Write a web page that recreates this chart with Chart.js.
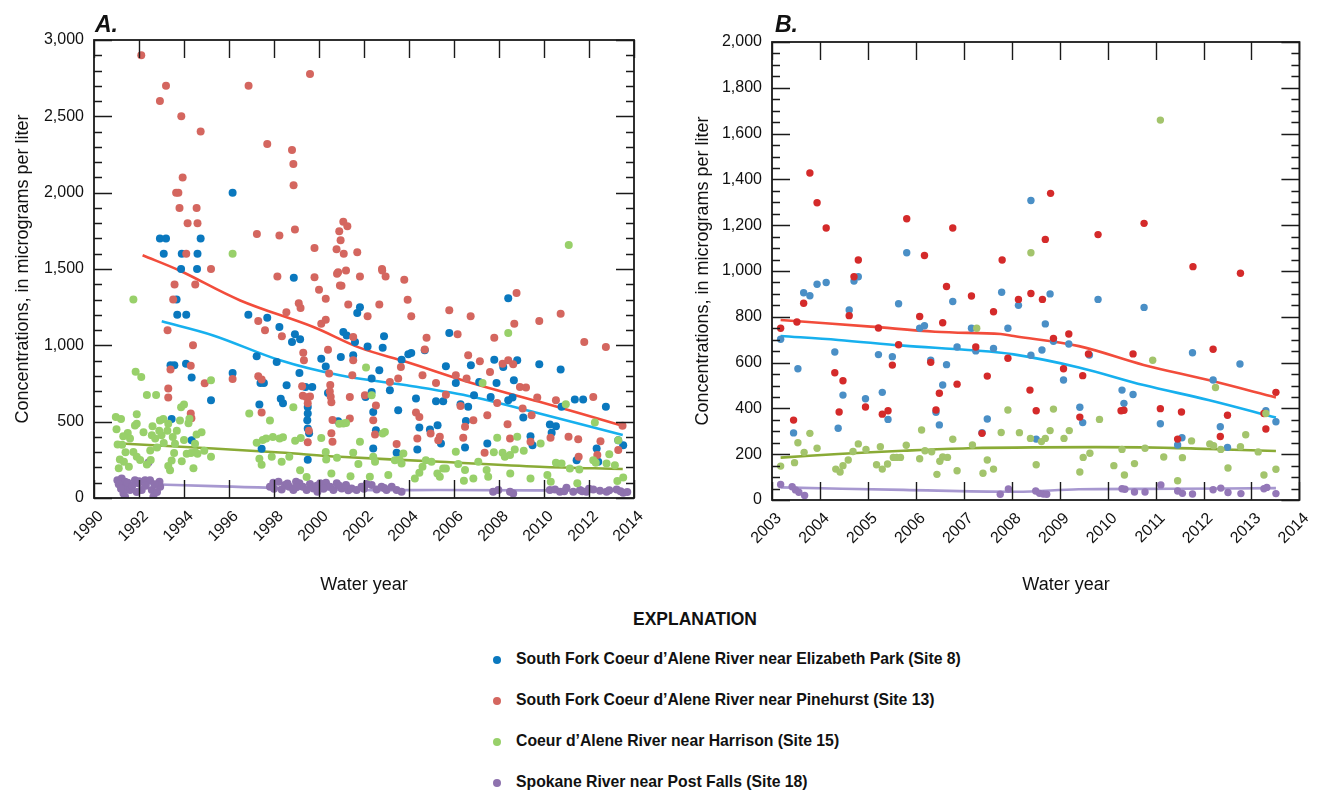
<!DOCTYPE html>
<html lang="en">
<head>
<meta charset="UTF-8">
<title>Concentrations by water year</title>
<script src="https://cdn.jsdelivr.net/npm/chart.js@4.4.1/dist/chart.umd.min.js"></script>
<style>
  body { margin: 0; background: #fff; color: #111;
         font-family: 'Liberation Sans Narrow', 'Arial Narrow', 'Liberation Sans', sans-serif; }
  .page { position: relative; width: 1322px; height: 792px; overflow: hidden; }
  canvas { position: absolute; top: 0; }
  #chartA { left: 0; }
  #chartB { left: 660px; }
  .tag { position: absolute; top: 11px; font: italic bold 23px 'Liberation Sans', Arial, sans-serif; }
  .xtitle { position: absolute; top: 574px; font-size: 18px; transform: translateX(-50%); white-space: nowrap; }
  .explain { position: absolute; left: 695px; top: 608px; transform: translateX(-50%) scaleX(0.92);
             font-weight: bold; font-size: 19px; }
  .item { position: absolute; left: 516px; font-weight: bold; font-size: 16.5px; white-space: nowrap;
          transform: scaleX(0.955); transform-origin: left center; }
  .dot { position: absolute; left: 493px; width: 8px; height: 8px; border-radius: 50%; }
</style>
</head>
<body>
<div class="page">
  <canvas id="chartA" width="660" height="600"></canvas>
  <canvas id="chartB" width="662" height="600"></canvas>
  <div class="tag" style="left:95px">A.</div>
  <div class="tag" style="left:775px">B.</div>
  <div class="xtitle" style="left:364px">Water year</div>
  <div class="xtitle" style="left:1066px">Water year</div>
  <div class="explain">EXPLANATION</div>
  <div id="legend"></div>
</div>

<script>
  // ---- panel A: water years 1990-2014, [year, micrograms per liter]
  const aSite8 = [
    [1996.16,2000],[1992.93,1700],[1993.2,1700],[1994.74,1700],[1993.1,1600],[1993.9,1600],[1994.6,1600],[1993.87,1500],[1994.58,1500],
    [1993.67,1300],[1993.7,1200],[1994.1,1200],[1993.4,870],[1993.57,870],[1994.34,790],[1994.09,880],[1995.2,640],[1993.45,518],[1994.34,379],
    [1996.16,819],[1996.86,1200],[1997.7,1181],[1998.24,1120],[1998.88,1442],[1997.23,928],[1997.4,754],[1997.55,754],[1997.35,612],[1997.45,322],
    [1998.12,891],[1998.3,650],[1998.4,620],[1998.56,738],[1998.8,1022],[1998.93,1073],[1999.16,1040],[1999.13,819],[1999.4,727],[1999.7,727],
    [1999.5,596],[1999.5,553],[1999.48,510],[1999.5,455],[1999.56,424],[1999.5,250],[2000.1,912],[2000.3,862],[2000.4,688],[2000.85,503],
    [2008.41,1309],[2009.79,876],[2010.74,841],[2001.82,1250],[2001.7,1211],[2001.08,1087],[2001.23,1065],[2001.6,1022],[2000.97,924],
    [2002.16,993],[2002.83,984],[2002.89,1059],[2002.68,836],[2001.52,935],[2002.07,662],[2002.34,782],[2002.34,695],[2002.41,564],[2002.53,444],
    [2002.41,324],[2003.15,706],[2003.52,575],[2003.45,296],[2003.67,906],[2003.97,941],[2004.1,950],[2004.7,967],[2004.31,651],[2004.46,462],
    [2004.37,318],[2004.93,449],[2005.27,477],[2005.42,357],[2005.2,634],[2005.52,634],[2005.64,863],[2005.79,1080],[2006.08,754],[2006.29,614],
    [2006.63,597],[2006.53,505],[2006.49,331],[2006.75,869],[2006.89,673],[2007.12,760],[2007.48,357],[2007.63,662],[2007.79,906],[2007.89,754],
    [2008.19,858],[2008.41,640],[2008.66,771],[2008.81,902],[2008.6,658],[2009.08,527],[2009.4,405],[2009.49,346],[2010.26,481],[2010.53,470],
    [2010.34,427],[2010.78,597],[2011.37,645],[2011.45,248],[2011.74,645],[2012.34,325],[2012.41,237],[2012.75,597],[2013.3,379],[2013.52,346]
  ];
  const aSite13 = [
    [1992.1,2900],[1993.2,2700],[1992.93,2600],[1993.88,2500],[1994.74,2400],[1996.87,2700],[1999.6,2778],[1997.7,2318],[1998.8,2279],
    [1998.86,2188],[1998.87,2048],[1993.94,2100],[1993.65,2000],[1993.75,2000],[1993.8,1900],[1994.56,1900],[1994.16,1800],[1994.6,1800],
    [1997.24,1730],[1998.24,1720],[1998.93,1758],[1999.8,1638],[2001.08,1810],[2001.26,1780],[2000.9,1747],[2000.96,1688],[2000.78,1630],
    [2001.1,1600],[2001.7,1610],[1994.1,1600],[2002.8,1500],
    [1993.58,1399],[1993.52,1300],[1993.27,1098],[1994.5,1399],[1994.4,1000],[1993.4,841],[1994.3,867],[1993.3,717],[1993.3,658],[1994.3,553],
    [1994.33,523],[1994.92,751],[1996.16,780],[1995.2,1500],[1997.3,797],[1997.45,777],[1997.45,560],[1997.3,1159],[1997.6,1098],[1998.15,1451],
    [1998.55,1217],[1998.35,1060],[1999.1,1276],[1999.18,1245],[1999.3,951],[1999.33,903],[1999.25,732],[1999.28,670],[1999.45,660],[1999.6,665],
    [1999.5,620],[1999.5,365],[1999.55,441],[2000.0,1364],[2000.3,1305],[2000.1,1142],[2000.3,1168],[1999.8,1446],[2000.8,1469],[2001.0,1391],
    [2000.85,1478],[2000.4,971],[2000.45,815],[2000.5,740],[2000.48,697],[2000.52,664],[2000.55,627],[2000.6,511],[2000.55,424],[2000.6,369],
    [2001.2,1490],[2001.82,1451],[2002.81,1490],[2002.96,1451],[2003.79,1429],[2003.94,1298],[2004.1,1190],[2001.3,1268],[2002.16,1190],
    [2002.68,1268],[2000.93,1392],[2005.79,1229],[2006.74,1190],[2006.16,1072],[2004.78,1050],[2004.7,972],[2006.63,935],[2007.15,895],
    [2007.79,1050],[2008.78,1342],[2008.68,1142],[2009.79,1159],[2010.74,1207],[2011.79,1022],[2012.75,989],[2001.52,1054],[2001.52,902],
    [2001.48,804],[2001.37,662],[2001.37,520],[2002.04,673],[2002.53,606],[2002.41,510],[2002.49,416],[2003.52,782],[2003.64,858],[2003.15,760],
    [2003.45,353],[2004.6,804],[2004.31,560],[2004.46,531],[2004.37,390],[2004.96,422],[2005.3,379],[2005.37,401],[2005.2,754],[2005.64,677],
    [2006.08,804],[2006.56,782],[2006.29,603],[2006.49,466],[2006.41,394],[2006.86,510],[2007.48,542],[2007.36,296],[2007.6,826],[2008.16,880],
    [2008.41,902],[2008.63,876],[2007.92,623],[2008.38,483],[2008.49,390],[2008.93,727],[2009.2,723],[2009.05,586],[2009.45,542],[2009.4,368],
    [2009.7,658],[2010.53,640],[2010.29,394],[2011.09,401],[2011.52,385],[2011.54,270],[2012.19,662],[2012.37,281],[2012.51,372],[2013.49,473],
    [2013.3,314]
  ];
  const aSite15 = [
    [1996.16,1600],[2011.1,1658],[1991.75,1300],[1991.85,827],[1992.1,793],[1992.35,675],[1992.76,675],[1990.97,531],[1991.2,518],[1991.9,549],
    [1991.5,425],[1991.3,404],[1991.25,349],[1991.15,253],[1991.33,238],[1991.1,195],[1991.75,302],[1991.9,270],[1992.05,249],[1992.5,311],
    [1992.52,249],[1991.9,486],[1991.82,475],[1992.57,411],[1992.72,390],[1993.0,411],[1992.93,508],[1993.08,518],[1993.3,486],[1993.26,440],
    [1993.68,440],[1993.82,508],[1993.87,595],[1994.0,612],[1994.2,490],[1994.24,519],[1994.49,356],[1994.56,416],[1994.78,431],[1993.6,356],
    [1993.56,294],[1993.45,246],[1993.38,181],[1993.3,210],[1994.12,290],[1994.31,294],[1994.6,290],[1994.42,195],[1995.2,270],[1995.2,772],
    [1991.05,350],[1991.4,300],[1991.6,390],[1992.2,430],[1992.9,440],[1993.1,360],[1993.5,400],[1994.0,380],[1994.5,300],[1992.35,220],
    [1991.55,205],[1992.8,330],[1993.9,240],[1994.9,310],[1991.0,450],[1992.6,470],
    [1996.9,553],[1997.23,362],[1997.5,380],[1997.65,390],[1997.95,400],[1998.25,390],[1998.4,398],[1997.45,218],[1997.35,257],[1997.9,270],
    [1998.34,238],[1998.68,270],[1997.82,508],[1998.86,595],[1998.94,375],[1999.19,393],[1999.16,181],[1999.45,138],[2000.1,393],[2000.55,160],
    [2000.32,253],[2000.3,302],[2000.9,486],[2000.8,263],[2001.4,142],
    [2008.41,1080],[2002.09,854],[2002.34,673],[2001.08,488],[2001.2,492],[2002.83,422],[2002.93,433],[2001.82,368],[2001.52,296],[2001.75,222],
    [2002.41,270],[2002.49,237],[2002.26,139],[2003.08,150],[2003.37,248],[2003.67,226],[2003.75,292],[2003.58,250],[2004.26,128],[2004.46,165],
    [2004.6,205],[2004.75,248],[2005.0,237],[2005.26,161],[2005.37,139],[2005.52,194],[2005.64,194],[2006.08,303],[2006.19,222],[2006.49,183],
    [2006.44,113],[2006.86,128],[2007.08,237],[2007.45,183],[2007.52,139],[2007.27,754],[2007.77,300],[2008.16,296],[2008.26,270],[2008.49,281],
    [2007.92,394],[2008.81,401],[2008.7,318],[2009.1,309],[2008.5,161],[2009.4,128],[2009.85,357],[2010.15,150],[2010.53,231],[2010.78,226],
    [2010.3,107],[2010.97,614],[2011.15,194],[2011.57,187],[2011.48,96],[2012.19,248],[2012.26,494],[2012.3,231],[2012.78,226],[2012.9,287],
    [2013.15,215],[2013.3,379],[2013.52,135],[2013.26,111]
  ];
  const aSite18 = [
    [1991.04,117],[1991.23,128],[1991.38,107],[1991.45,74],[1991.31,30],[1991.38,8],[1991.6,52],[1991.82,117],[1991.97,96],[1992.12,52],
    [1992.27,117],[1992.42,233],[1992.49,117],[1992.57,52],[1992.64,8],[1992.91,107],[1992.94,74],
    [1991.1,90],[1991.5,100],[1991.7,80],[1991.9,40],[1992.0,110],[1992.3,80],[1992.7,90],[1992.8,40],[1991.2,60],
    [1997.82,74],[1997.97,100],[1998.2,107],[1998.34,56],[1998.49,85],[1998.68,74],[1998.86,52],[1998.98,107],[1999.13,96],[1999.28,74],
    [1999.45,52],[1999.6,91],[1999.75,63],[1999.93,41],[2000.05,96],[2000.31,100],[2000.49,74],[2000.64,52],[2000.79,96],[2001.01,63],
    [1998.0,60],[1998.6,95],[1999.0,70],[1999.9,80],[2000.2,60],[2000.9,80],[2001.3,50],[2002.0,60],[2002.9,65],
    [2001.2,85],[2001.45,63],[2001.67,52],[2001.89,74],[2002.12,91],[2002.34,85],[2002.56,56],[2002.78,74],[2003.0,52],[2003.23,74],
    [2003.45,52],[2003.67,41],[2007.74,41],[2007.97,52],[2008.49,41],[2008.63,30],[2010.26,52],[2010.49,56],[2010.71,41],[2011.0,67],
    [2011.3,41],[2011.6,52],[2011.89,41],[2012.19,56],[2012.49,48],[2012.78,41],[2013.23,56],[2013.52,34],
    [2010.9,45],[2011.7,45],[2012.0,60],[2012.9,50],[2013.4,45],[2013.7,40]
  ];
  // smoothed trend lines, panel A
  const aTrend8 = [[1993.01,1157],[1995.3,1065],[1998.27,902],[2000.93,804],[2003.9,738],[2006.86,662],[2009.8,553],[2013.5,412]];
  const aTrend13 = [[1992.16,1590],[1993.8,1490],[1996.5,1294],[1999.75,1120],[2001.8,985],[2003.9,891],[2006.86,750],[2009.8,630],[2013.52,472]];
  const aTrend15 = [[1991.2,357],[1995.3,324],[1998.27,298],[2000.93,270],[2005.4,237],[2009.8,205],[2013.5,190]];
  const aTrend18 = [[1991.2,96],[1995.3,78],[2001.8,52],[2005.4,52],[2013.5,48]];

  // ---- panel B: water years 2003-2014
  const bSite8 = [
    [2005.81,1080],[2008.4,1308],[2003.18,702],[2003.54,573],[2003.66,905],[2003.79,892],[2003.94,942],[2004.13,950],[2004.61,830],[2004.71,956],
    [2004.8,975],[2004.31,646],[2004.48,458],[2004.38,313],[2003.45,293],[2004.95,442],[2005.22,635],[2005.3,470],[2005.51,626],[2005.42,352],
    [2005.64,857],[2006.08,750],[2006.18,761],[2006.31,611],[2006.42,383],[2006.49,328],[2006.56,502],[2006.64,591],[2006.77,867],[2006.86,668],
    [2007.16,750],[2007.25,651],[2007.38,294],[2007.49,354],[2007.62,662],[2007.79,907],[2007.92,750],[2008.14,850],[2008.4,632],
    [2008.8,900],[2008.7,769],[2008.63,655],[2008.87,693],[2009.19,681],[2009.08,524],[2009.62,633],[2009.42,405],[2009.48,338],[2009.8,876],
    [2010.3,480],[2010.34,422],[2010.53,461],[2010.76,841],[2011.1,333],[2011.55,272],[2011.46,240],[2011.77,643],[2012.2,524],[2012.35,320],
    [2012.5,230],[2012.76,594],[2013.3,390],[2013.51,342],[2008.51,266]
  ];
  const bSite13 = [
    [2003.79,1428],[2003.94,1298],[2004.13,1188],[2004.8,1048],[2005.81,1228],[2006.18,1068],[2006.77,1188],[2007.8,1048],[2008.81,1339],
    [2008.7,1138],[2009.8,1159],[2010.76,1208],[2011.78,1019],
    [2003.18,750],[2003.52,777],[2003.45,349],[2003.66,859],[2004.71,975],[2004.61,805],[2004.31,556],[2004.48,521],[2004.4,384],[2004.95,406],
    [2005.22,751],[2005.3,375],[2005.42,390],[2005.51,589],[2005.64,678],[2006.08,801],[2006.31,601],[2006.42,393],[2006.49,466],[2006.56,774],
    [2006.64,932],[2006.86,506],[2007.16,891],[2007.25,668],[2007.38,291],[2007.49,541],[2007.62,822],[2007.92,619],[2008.14,876],[2008.4,902],
    [2008.38,480],
    [2008.64,876],[2008.87,706],[2009.19,725],[2009.08,573],[2009.48,543],[2009.6,638],[2008.51,390],[2009.42,362],[2010.53,638],[2010.28,390],
    [2010.34,392],[2011.1,399],[2011.54,384],[2011.46,266],[2012.2,658],[2012.5,370],[2012.35,277],[2013.51,470],[2013.26,378],[2013.3,310],
    [2012.77,990]
  ];
  const bSite15 = [
    [2008.4,1080],[2011.1,1659],[2003.18,148],[2003.47,163],[2003.54,250],[2003.67,208],[2003.79,291],[2003.94,226],[2004.33,135],[2004.42,122],
    [2004.48,150],[2004.59,175],[2004.69,212],[2004.8,245],[2004.96,221],[2005.18,154],[2005.26,233],[2005.3,135],[2005.41,157],[2005.53,186],
    [2005.6,186],[2005.68,186],[2005.8,239],[2006.08,180],[2006.12,306],[2006.19,215],[2006.33,211],[2006.44,112],[2006.5,169],[2006.56,188],
    [2006.66,186],[2006.77,265],[2006.86,128],[2007.18,240],[2007.27,750],[2007.4,117],[2007.49,175],[2007.62,135],[2007.78,295],[2007.92,393],
    [2008.16,294],[2008.39,269],
    [2008.62,255],[2008.7,269],[2008.8,303],[2008.87,397],[2008.51,154],[2009.09,269],[2009.2,303],[2009.42,122],[2009.49,186],[2009.63,204],
    [2009.83,352],[2010.13,150],[2010.3,221],[2010.35,109],[2010.56,159],[2010.78,226],[2010.94,610],[2011.17,188],[2011.46,84],[2011.56,185],
    [2011.75,258],[2012.13,245],[2012.21,237],[2012.25,491],[2012.36,221],[2012.51,140],[2012.77,233],[2012.88,285],[2013.14,210],[2013.26,109],
    [2013.3,378],[2013.51,134]
  ];
  const bSite18 = [
    [2003.18,68],[2003.42,58],[2003.49,44],[2003.56,34],[2003.68,20],[2007.76,25],[2007.93,48],[2008.5,39],[2008.58,29],[2008.66,26],
    [2008.73,25],[2010.3,49],[2010.36,47],[2010.56,35],[2010.78,35],[2011.11,66],[2011.46,39],[2011.56,29],[2011.77,26],[2012.2,45],
    [2012.36,52],[2012.51,33],[2012.78,28],[2013.26,49],[2013.32,55],[2013.51,28]
  ];
  const bTrend8 = [[2003.18,716],[2004.38,699],[2005.74,674],[2007.09,655],[2008.04,636],[2009.4,579],[2010.75,502],[2012.1,437],[2013.51,360]];
  const bTrend13 = [[2003.18,786],[2005.06,757],[2006.4,735],[2007.77,725],[2008.04,716],[2009.4,672],[2010.75,590],[2012.1,524],[2013.51,448]];
  const bTrend15 = [[2003.18,185],[2004.38,201],[2005.74,215],[2007.09,226],[2008.45,230],[2010.75,230],[2012.1,223],[2013.51,214]];
  const bTrend18 = [[2003.18,55],[2005.74,44],[2008.1,36],[2009.4,47],[2011.43,49],[2013.51,52]];

  const siteNames = [
    'South Fork Coeur d\u2019Alene River near Elizabeth Park (Site 8)',
    'South Fork Coeur d\u2019Alene River near Pinehurst (Site 13)',
    'Coeur d\u2019Alene River near Harrison (Site 15)',
    'Spokane River near Post Falls (Site 18)'
  ];
  const legendColors = ['#0a78be', '#d4665f', '#98d06a', '#8e72ae'];

  const FONT = "'Liberation Sans Narrow', 'Arial Narrow', 'Liberation Sans', sans-serif";

  // inward tick marks on all four sides plus the frame
  const frameTicks = {
    id: 'frameTicks',
    afterDraw(chart, args, o) {
      const { ctx, chartArea: a, scales: { x, y } } = chart;
      ctx.save();
      ctx.strokeStyle = '#1a1a1a';
      ctx.lineWidth = 1.4;
      ctx.beginPath();
      for (let v = o.xMin; v <= o.xMax; v += o.xStep) {
        const px = Math.round(x.getPixelForValue(v)) + 0.5;
        ctx.moveTo(px, a.bottom); ctx.lineTo(px, a.bottom - 18);
        ctx.moveTo(px, a.top); ctx.lineTo(px, a.top + 18);
      }
      for (let v = 0; v <= o.yMax; v += o.yMinor) {
        const py = Math.round(y.getPixelForValue(v)) + 0.5;
        const len = v % o.yStep === 0 ? 18 : 8;
        ctx.moveTo(a.left, py); ctx.lineTo(a.left + len, py);
        ctx.moveTo(a.right, py); ctx.lineTo(a.right - len, py);
      }
      ctx.stroke();
      ctx.lineWidth = 1.8;
      ctx.strokeRect(a.left, a.top, a.right - a.left, a.bottom - a.top);
      ctx.restore();
    }
  };

  function pts(list) {
    return list.map(p => ({ x: p[0], y: p[1] }));
  }

  function dots(list, color, r) {
    return { data: pts(list), backgroundColor: color, borderWidth: 0, pointRadius: r, pointHoverRadius: r };
  }

  function trend(list, color) {
    return { data: pts(list), showLine: true, borderColor: color, borderWidth: 2.6,
             pointRadius: 0, tension: 0.35, fill: false };
  }

  function makePanel(id, p) {
    new Chart(document.getElementById(id), {
      type: 'scatter',
      data: { datasets: p.datasets },
      options: {
        responsive: false,
        animation: false,
        devicePixelRatio: 1,
        layout: { padding: p.padding },
        plugins: {
          legend: { display: false },
          tooltip: { enabled: false },
          frameTicks: p.ticks
        },
        scales: {
          x: {
            type: 'linear', min: p.ticks.xMin, max: p.ticks.xMax,
            grid: { display: false, drawTicks: false }, border: { display: false },
            ticks: { stepSize: p.ticks.xStep, minRotation: 45, maxRotation: 45, padding: 9, labelOffset: 7,
                     color: '#111', font: { family: FONT, size: 16 }, callback: v => String(v) },
            afterFit: s => { s.height = p.xHeight; }
          },
          y: {
            min: 0, max: p.ticks.yMax,
            grid: { display: false, drawTicks: false }, border: { display: false },
            ticks: { stepSize: p.ticks.yStep, padding: 10, color: '#111',
                     font: { family: FONT, size: 16 }, callback: v => v.toLocaleString('en-US') },
            title: { display: true, text: 'Concentrations, in micrograms per liter', color: '#111',
                     font: { family: FONT, size: 18 }, padding: { top: p.titlePad, bottom: 0 } },
            afterFit: s => { s.width = p.yWidth; }
          }
        }
      },
      plugins: [frameTicks]
    });
  }

  makePanel('chartA', {
    padding: { left: 0, right: 26, top: 40, bottom: 0 },
    yWidth: 94, xHeight: 102, titlePad: 12,
    ticks: { xMin: 1990, xMax: 2014, xStep: 2, yMax: 3000, yStep: 500, yMinor: 100 },
    datasets: [
      dots(aSite15, '#98d06a', 4),
      dots(aSite13, '#d4665f', 4),
      dots(aSite8, '#0a78be', 4),
      dots(aSite18, '#8e72ae', 4),
      trend(aTrend15, '#8aab36'),
      trend(aTrend18, '#a798d0'),
      trend(aTrend8, '#17b0ee'),
      trend(aTrend13, '#f24c3b')
    ]
  });

  makePanel('chartB', {
    padding: { left: 0, right: 10, top: 42, bottom: 0 },
    yWidth: 112, xHeight: 100, titlePad: 32,
    ticks: { xMin: 2003, xMax: 2014, xStep: 1, yMax: 2000, yStep: 200, yMinor: 50 },
    datasets: [
      dots(bSite15, '#a3c46c', 3.7),
      dots(bSite13, '#d42a2a', 3.7),
      dots(bSite8, '#4a8fc6', 3.7),
      dots(bSite18, '#9478b8', 3.7),
      trend(bTrend15, '#8aab36'),
      trend(bTrend18, '#a798d0'),
      trend(bTrend8, '#17b0ee'),
      trend(bTrend13, '#f24c3b')
    ]
  });

  // explanation block
  const legend = document.getElementById('legend');
  siteNames.forEach((name, i) => {
    const top = 649 + i * 41;
    const dot = document.createElement('div');
    dot.className = 'dot';
    dot.style.top = (top + 7) + 'px';
    dot.style.background = legendColors[i];
    const row = document.createElement('div');
    row.className = 'item';
    row.style.top = top + 'px';
    row.textContent = name;
    legend.appendChild(dot);
    legend.appendChild(row);
  });
</script>
</body>
</html>
